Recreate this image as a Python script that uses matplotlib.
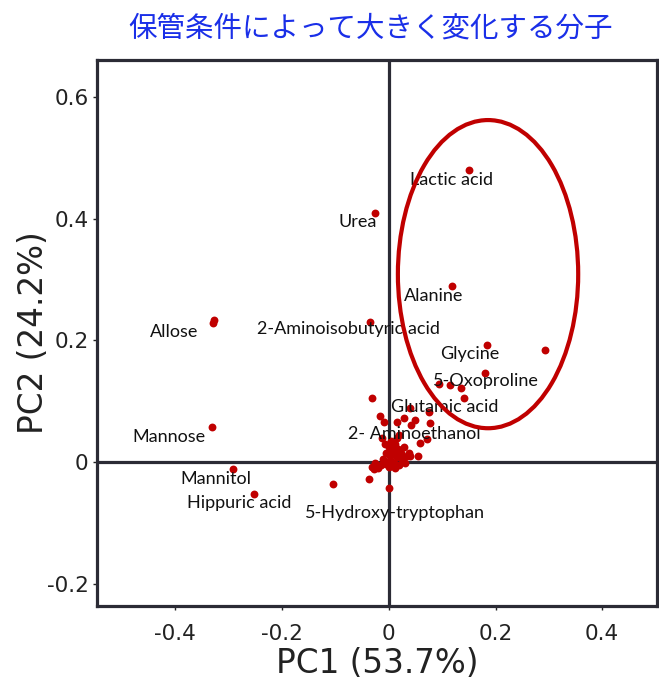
import matplotlib
matplotlib.use("Agg")
import matplotlib.pyplot as plt
from matplotlib.patches import Ellipse

plt.rcParams['axes.unicode_minus'] = False
plt.rcParams['font.family'] = ['DejaVu Sans']

# Labeled molecules: (name, PC1, PC2) and label anchor positions
names = ["Lactic acid", "Urea", "Alanine", "2-Aminoisobutyric acid", "Allose",
         "Glycine", "5-Oxoproline", "Glutamic acid", "2- Aminoethanol",
         "Mannose", "Mannitol", "Hippuric acid", "5-Hydroxy-tryptophan"]
label_x = [0.040, -0.095, 0.029, -0.247, -0.448, 0.096, 0.083, 0.005, -0.076,
           -0.480, -0.391, -0.378, -0.157]
label_y = [0.464, 0.395, 0.273, 0.219, 0.214, 0.178, 0.133, 0.090, 0.046,
           0.041, -0.028, -0.067, -0.084]

# All score points (PC1, PC2)
pc1 = [0.150, -0.026, 0.118, -0.036, -0.329, -0.328, 0.184, 0.293, 0.181,
       -0.332, -0.292, -0.252, 0.000, -0.105,
       0.095, 0.114, 0.135, 0.140, 0.075, 0.040, 0.078, 0.050, 0.028, -0.009,
       0.015, 0.041, -0.032, -0.017, 0.039, 0.071, 0.058, 0.038, 0.055, 0.035,
       -0.031, -0.038,
       0.005, 0.012, 0.000, 0.018, 0.008, 0.022, -0.005, 0.002, 0.015, 0.025,
       -0.010, 0.005, 0.010, -0.005, 0.020, -0.015, 0.000, 0.012, -0.020,
       -0.008, 0.028, 0.030, -0.025, 0.015, -0.012, 0.020, -0.024, -0.028,
       0.008, 0.003, 0.016, -0.002]
pc2 = [0.480, 0.410, 0.290, 0.231, 0.229, 0.233, 0.192, 0.184, 0.146,
       0.057, -0.012, -0.053, -0.043, -0.037,
       0.128, 0.126, 0.121, 0.106, 0.082, 0.089, 0.064, 0.069, 0.072, 0.066,
       0.066, 0.061, 0.106, 0.076, 0.009, 0.038, 0.031, 0.014, 0.010, 0.009,
       -0.008, -0.028,
       0.035, 0.030, 0.025, 0.022, 0.018, 0.015, 0.015, 0.010, 0.008, 0.005,
       0.005, 0.002, -0.002, -0.003, -0.005, -0.005, -0.008, -0.010, -0.010,
       0.030, 0.025, -0.002, -0.002, 0.040, 0.040, 0.045, -0.006, -0.012,
       0.028, 0.020, 0.012, 0.000]

# Highlight ellipse (center, width, height) in data units
ell_center = (0.186, 0.309)
ell_width = 0.338
ell_height = 0.507

xticks = [-0.4, -0.2, 0, 0.2, 0.4]
xticklabels = ["-0.4", "-0.2", "0", "0.2", "0.4"]
yticks = [-0.2, 0, 0.2, 0.4, 0.6]
yticklabels = ["-0.2", "0", "0.2", "0.4", "0.6"]

title = "保管条件によって大きく変化する分子"
xlabel = "PC1 (53.7%)"
ylabel = "PC2 (24.2%)"

red = "#c00000"
dark = "#2b2b35"

fig = plt.figure(figsize=(6.59, 6.84), dpi=100)
ax = fig.add_axes([0.1472, 0.114, 0.850, 0.798])

ax.axhline(0, color=dark, lw=2.3, zorder=1)
ax.axvline(0, color=dark, lw=2.3, zorder=1)

ax.scatter(pc1, pc2, s=32, color=red, zorder=3, linewidths=0)

for n, lx, ly in zip(names, label_x, label_y):
    ax.text(lx, ly, n, ha='left', va='center', fontsize=13,
            family=['Lato', 'DejaVu Sans'], color='#111111', zorder=4)

ax.add_patch(Ellipse(ell_center, ell_width, ell_height, fill=False,
                     edgecolor=red, lw=3.0, zorder=5))

ax.set_xlim(-0.547, 0.503)
ax.set_ylim(-0.237, 0.661)
ax.set_xticks(xticks)
ax.set_xticklabels(xticklabels, family='DejaVu Sans')
ax.set_yticks(yticks)
ax.set_yticklabels(yticklabels, family='DejaVu Sans')
ax.tick_params(direction='out', length=3, width=1, labelsize=15.5,
               colors='#222222', pad=3)
ax.tick_params(axis='x', pad=10)
for sp in ax.spines.values():
    sp.set_linewidth(2.3)
    sp.set_color(dark)

ax.set_xlabel(xlabel, fontsize=23.5, labelpad=2, color='#222222',
              family='DejaVu Sans')
ax.set_ylabel(ylabel, fontsize=23.5, labelpad=-2, color='#222222',
              family='DejaVu Sans')

fig.text(0.562, 0.958, title, ha='center', va='center', fontsize=20.5,
         family=['Noto Sans CJK JP', 'DejaVu Sans'], color='#1a2fe8')

fig.savefig("out.png", dpi=100)
